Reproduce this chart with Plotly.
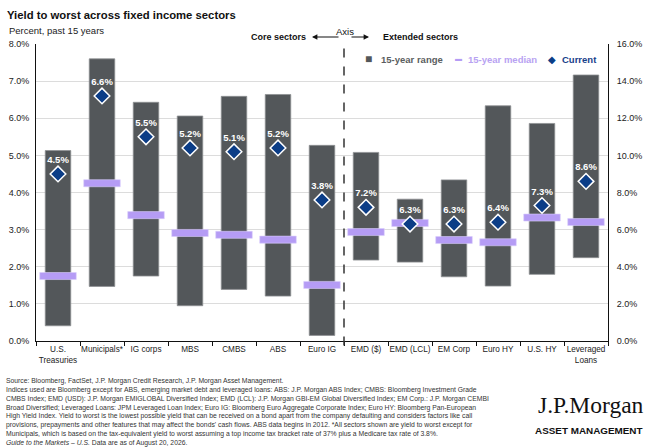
import plotly.graph_objects as go

# sectors, left axis (core) then right axis (extended)
core_sectors = ["U.S.<br>Treasuries", "Municipals*", "IG corps", "MBS", "CMBS", "ABS", "Euro IG"]
core_low = [0.41, 1.47, 1.75, 0.95, 1.39, 1.21, 0.15]
core_high = [5.13, 7.60, 6.43, 6.06, 6.59, 6.64, 5.27]
core_median = [1.75, 4.25, 3.39, 2.91, 2.86, 2.73, 1.51]
core_current = [4.5, 6.6, 5.5, 5.2, 5.1, 5.2, 3.8]

ext_sectors = ["EMD ($)", "EMD (LCL)", "EM Corp", "Euro HY", "U.S. HY", "Leveraged<br>Loans"]
ext_low = [4.36, 4.25, 3.46, 2.96, 3.59, 4.49]
ext_high = [10.16, 7.64, 8.68, 12.67, 11.72, 14.33]
ext_median = [5.87, 6.36, 5.44, 5.32, 6.65, 6.41]
ext_current = [7.2, 6.3, 6.3, 6.4, 7.3, 8.6]

GREY = "#53575a"
LAVENDER = "#b59cf5"
NAVY = "#0b3d87"
FONT = "Liberation Sans, Arial, sans-serif"

fig = go.Figure()


def add_group(sectors, low, high, median, current, yaxis, med_thick):
    fig.add_trace(
        go.Bar(
            x=sectors,
            base=low,
            y=[h - l for h, l in zip(high, low)],
            width=0.58,
            marker_color=GREY,
            marker_line=dict(color="#8e9193", width=0.8),
            yaxis=yaxis,
            showlegend=False,
            hoverinfo="skip",
        )
    )
    fig.add_trace(
        go.Bar(
            x=sectors,
            base=[m - med_thick / 2 for m in median],
            y=[med_thick] * len(median),
            width=0.83,
            marker_color=LAVENDER,
            marker_line=dict(color="#d9ccfb", width=0.6),
            yaxis=yaxis,
            showlegend=False,
            hoverinfo="skip",
        )
    )
    fig.add_trace(
        go.Scatter(
            x=sectors,
            y=current,
            mode="markers+text",
            text=[f"{v:.1f}%" for v in current],
            textposition="top center",
            textfont=dict(family=FONT, size=9.5, color="white", weight="bold"),
            marker=dict(symbol="diamond", size=12, color=NAVY,
                        line=dict(color="white", width=1.5)),
            yaxis=yaxis,
            showlegend=False,
            cliponaxis=False,
        )
    )


add_group(core_sectors, core_low, core_high, core_median, core_current, "y", 0.19)
add_group(ext_sectors, ext_low, ext_high, ext_median, ext_current, "y2", 0.38)

W, H = 653, 447
L, R, T, B = 36, 45, 44, 106
pw, ph = W - L - R, H - T - B


def px(x):
    return (x - L) / pw


def py(y):
    return (H - B - y) / ph


annotations = [
    dict(text="Percent, past 15 years", x=px(7), y=py(30), xanchor="left",
         font=dict(size=9.5, color="#222")),
    dict(text="<b>Core sectors</b>", x=px(308), y=py(37), xanchor="right",
         font=dict(size=9, color="#111")),
    dict(text="Axis", x=px(345), y=py(31), xanchor="center",
         font=dict(size=9.5, color="#111")),
    dict(text="<b>Extended sectors</b>", x=px(381), y=py(37), xanchor="left",
         font=dict(size=9, color="#111")),
    # legend
    dict(text="■", x=px(368.5), y=py(59), xanchor="center",
         font=dict(size=12, color=GREY)),
    dict(text="<b>15-year range</b>", x=px(379), y=py(59), xanchor="left",
         font=dict(size=9.5, color="#5a5d60")),
    dict(text="▬", x=px(458.5), y=py(58.5), xanchor="center",
         font=dict(size=7, color=LAVENDER)),
    dict(text="<b>15-year median</b>", x=px(466), y=py(59), xanchor="left",
         font=dict(size=9.5, color="#b8a2f2")),
    dict(text="◆", x=px(552), y=py(59), xanchor="center",
         font=dict(size=10, color=NAVY)),
    dict(text="<b>Current</b>", x=px(560), y=py(59), xanchor="left",
         font=dict(size=9.5, color="#17408a")),
    # footnotes
    dict(
        text=(
            "Source: Bloomberg, FactSet, J.P. Morgan Credit Research, J.P. Morgan Asset Management.<br>"
            "Indices used are Bloomberg except for ABS, emerging market debt and leveraged loans: ABS: J.P. Morgan ABS Index; CMBS: Bloomberg Investment Grade<br>"
            "CMBS Index; EMD (USD): J.P. Morgan EMIGLOBAL Diversified Index; EMD (LCL): J.P. Morgan GBI-EM Global Diversified Index; EM Corp.: J.P. Morgan CEMBI<br>"
            "Broad Diversified; Leveraged Loans: JPM Leveraged Loan Index; Euro IG: Bloomberg Euro Aggregate Corporate Index; Euro HY: Bloomberg Pan-European<br>"
            "High Yield Index. Yield to worst is the lowest possible yield that can be received on a bond apart from the company defaulting and considers factors like call<br>"
            "provisions, prepayments and other features that may affect the bonds' cash flows. ABS data begins in 2012. *All sectors shown are yield to worst except for<br>"
            "Municipals, which is based on the tax-equivalent yield to worst assuming a top income tax bracket rate of 37% plus a Medicare tax rate of 3.8%.<br>"
            "<i>Guide to the Markets – U.S.</i> Data are as of August 20, 2026."
        ),
        x=px(4), y=py(375), xanchor="left", yanchor="top", align="left",
        font=dict(size=6.8, color="#333"),
    ),
    dict(text="J.P.Morgan", x=px(646), y=py(405), xanchor="right",
         font=dict(family="Liberation Serif, serif", size=23.5, color="#111")),
    dict(text="<b>ASSET MANAGEMENT</b>", x=px(645), y=py(430), xanchor="right",
         font=dict(size=9.9, color="#111")),
]
for a in annotations:
    a.update(xref="paper", yref="paper", showarrow=False)
    a.setdefault("yanchor", "middle")

# arrows around "Axis"
annotations += [
    dict(x=px(312), y=py(37), ax=28, ay=0, xref="paper", yref="paper", text="",
         showarrow=True, arrowhead=2, arrowsize=0.9, arrowwidth=1.2, arrowcolor="#111"),
    dict(x=px(369), y=py(37), ax=-19, ay=0, xref="paper", yref="paper", text="",
         showarrow=True, arrowhead=2, arrowsize=0.9, arrowwidth=1.2, arrowcolor="#111"),
]

fig.update_layout(
    width=W,
    height=H,
    margin=dict(l=L, r=R, t=T, b=B),
    paper_bgcolor="white",
    plot_bgcolor="white",
    barmode="overlay",
    font=dict(family=FONT, color="#222"),
    title=dict(
        text="<b>Yield to worst across fixed income sectors</b>",
        x=7 / W, xanchor="left", y=1 - 15 / H, yanchor="middle",
        font=dict(size=11.3, color="#111"),
    ),
    annotations=annotations,
    shapes=[
        dict(type="line", xref="x", yref="paper", x0=6.5, x1=6.5, y0=-0.015, y1=1.01,
             line=dict(color="#333", width=1.5, dash="dash")),
    ],
    showlegend=False,
)

fig.update_xaxes(
    categoryorder="array",
    categoryarray=core_sectors + ext_sectors,
    range=[-0.5, 12.5],
    tickson="boundaries",
    ticks="outside",
    ticklen=4,
    tickcolor="#111",
    tickangle=0,
    showline=True,
    linecolor="#111",
    linewidth=1,
    tickfont=dict(size=8.2, color="#222"),
    automargin=False,
)
fig.update_layout(
    yaxis=dict(
        range=[0, 8],
        dtick=1,
        tickformat=".1f",
        ticksuffix="%",
        showgrid=True,
        gridcolor="#dcdcdc",
        showline=True,
        linecolor="#111",
        zeroline=False,
        tickfont=dict(size=9, color="#222"),
        ticklabelstandoff=4,
        automargin=False,
    ),
    yaxis2=dict(
        range=[0, 16],
        dtick=2,
        tickformat=".1f",
        ticksuffix="%",
        overlaying="y",
        side="right",
        showgrid=False,
        showline=True,
        linecolor="#111",
        zeroline=False,
        tickfont=dict(size=9, color="#222"),
        ticklabelstandoff=6,
        automargin=False,
    ),
)

fig.write_html(
    "out.html",
    config={"displayModeBar": False},
    post_script="document.body.style.margin='0';",
)
